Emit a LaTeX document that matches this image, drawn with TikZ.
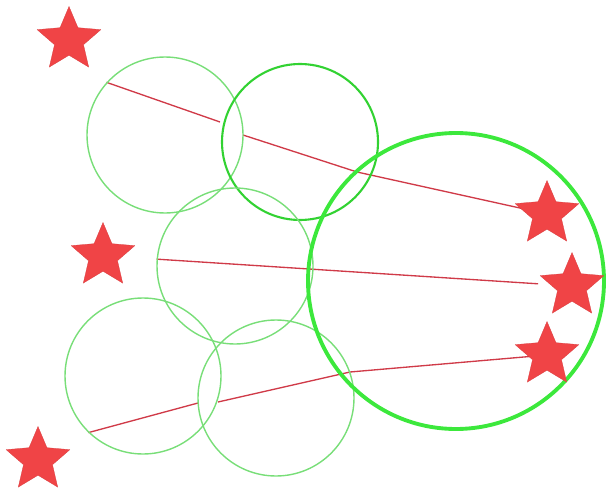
\documentclass[tikz,border=0pt]{standalone}
\usetikzlibrary{shapes.geometric, positioning, backgrounds}
\definecolor{cG}{RGB}{120,222,120}
\definecolor{cGd}{RGB}{50,210,50}
\definecolor{cGb}{RGB}{60,232,60}
\definecolor{cR}{RGB}{240,68,70}
\definecolor{cL}{RGB}{208,58,72}

\begin{document}
\begin{tikzpicture}[x=0.05cm, y=-0.05cm,
                    ring/.style={circle, draw=cG, line width=2pt, minimum size=7.8cm, inner sep=0pt},
                    redstar/.style={star, star points=5, star point ratio=2.2, fill=cR, draw=cR!90!black,
                                    line width=0.4pt, minimum size=3.35cm, inner sep=0pt},
                    link/.style={draw=cL, line width=1.9pt}]
    \useasboundingbox (0,0) rectangle (606,491);

    % Circles
    \node[ring] (c1) at (165,135) {};
    \node[ring, draw=cGd, line width=3pt] (c2) at (300,142) {};
    \node[ring] (c3) at (235,266) {};
    \node[ring] (c4) at (143,376) {};
    \node[ring] (c5) at (276,398) {};
    \node[ring, draw=cGb, line width=5.5pt, minimum size=14.8cm] (c6) at (456,281) {};

    % Stars
    \node[redstar] (s1) at (69,40)   {};
    \node[redstar] (s2) at (103,256) {};
    \node[redstar] (s3) at (38,460)  {};
    \node[redstar] (s4) at (547,214) {};
    \node[redstar] (s5) at (572,286) {};
    \node[redstar] (s6) at (547,355) {};

    % Bend points of the links
    \coordinate (k1a) at (220,122);
    \coordinate (k1b) at (243,135);
    \coordinate (k1c) at (357,172);
    \coordinate (k3a) at (198,403);
    \coordinate (k3b) at (218,402);
    \coordinate (k3c) at (350,372);

    % Links
    \begin{scope}[on background layer]
        \draw[link] (c1.138) -- (k1a) (k1b) -- (k1c) -- (s4.center);
        \draw[link, shorten >=1.7cm] (c3.175) -- (s5.center);
        \draw[link] (c4.226) -- (k3a) (k3b) -- (k3c) -- (s6.center);
    \end{scope}

\end{tikzpicture}
\end{document}
